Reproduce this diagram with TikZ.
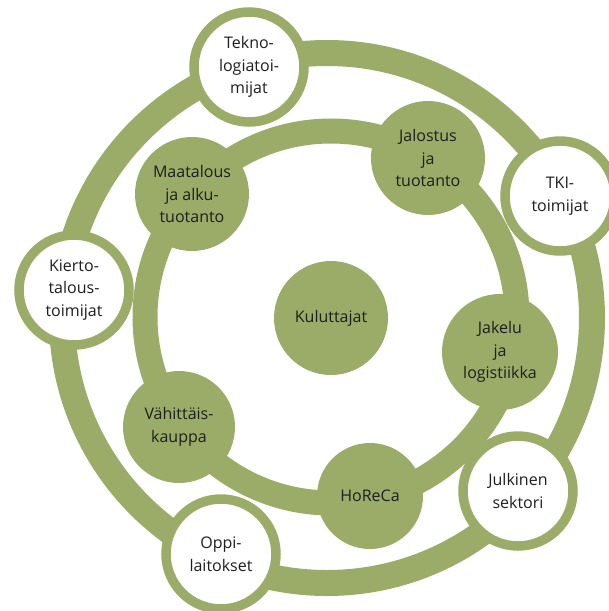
\documentclass[tikz,border=0pt]{standalone}
\usepackage{fontspec}
\setmainfont{Open Sans}
\definecolor{olive}{RGB}{154,172,104}
\definecolor{txt}{RGB}{30,30,30}
\begin{document}
\begin{tikzpicture}[x=1pt,y=-1pt,
  ring/.style={draw=olive,line width=25pt},
  outerbox/.style={circle,draw=olive,fill=white,line width=9.5pt,minimum size=110pt,inner sep=0pt,align=center,text=txt,font=\fontsize{16}{22.5}\selectfont},
  innerbox/.style={circle,fill=olive,minimum size=114pt,inner sep=0pt,align=center,text=txt,font=\fontsize{16}{22.5}\selectfont}]
\useasboundingbox (0,0) rectangle (609,611);
\clip (0,0) rectangle (609,611);
\coordinate (oc) at (327,318);
\coordinate (ic) at (331,317);
\draw[ring,line width=26pt] (oc) circle[radius=265pt];
\draw[ring] (ic) circle[radius=186pt];
% inner circles
\node[innerbox] (kul) at (331,318) {Kuluttajat};
\node[innerbox] (maa) at (192,194) {Maatalous\\ja alku-\\tuotanto};
\node[innerbox] (jal) at (428,158) {Jalostus\\ja\\tuotanto};
\node[innerbox,minimum size=116pt] (jak) at (500,352) {Jakelu\\ja\\logistiikka};
\node[innerbox,minimum size=106pt] (hor) at (370,496) {HoReCa};
\node[innerbox,minimum size=112pt] (vah) at (179,427) {Vähittäis-\\kauppa};
% outer circles
\node[outerbox] (tek) at (249,67) {Tekno-\\logiatoi-\\mijat};
\node[outerbox] (tki) at (560,196) {TKI-\\toimijat};
\node[outerbox] (kie) at (74,290) {Kierto-\\talous-\\toimijat};
\node[outerbox] (jul) at (518,491) {Julkinen\\sektori};
\node[outerbox] (opp) at (221,554) {Oppi-\\laitokset};
\end{tikzpicture}
\end{document}
